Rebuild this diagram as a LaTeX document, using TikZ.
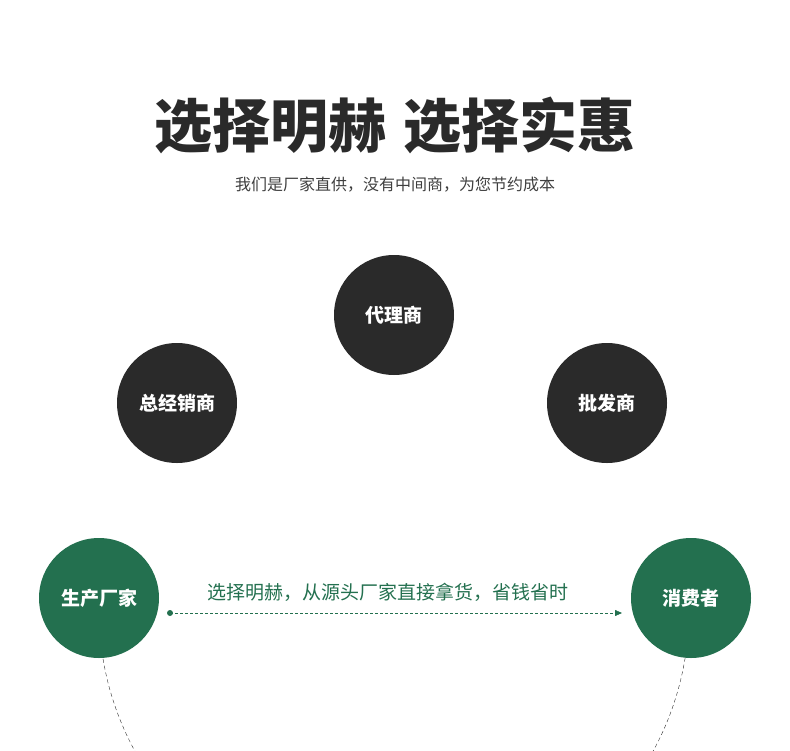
\documentclass[tikz,border=0pt]{standalone}
\usepackage{fontspec}
\setmainfont{Noto Sans CJK SC}
\usetikzlibrary{arrows.meta}
\definecolor{dk}{HTML}{2A2A2A}
\definecolor{gr}{HTML}{23704F}
\tikzset{
 darkc/.style={circle,fill=dk,minimum size=120pt,inner sep=0,text=white,font=\fontsize{19}{19}\selectfont\bfseries},
 greenc/.style={circle,fill=gr,minimum size=120pt,inner sep=0,text=white,font=\fontsize{19}{19}\selectfont\bfseries}
}
\begin{document}
\begin{tikzpicture}[x=1pt,y=-1pt]
\useasboundingbox (0,0) rectangle (790,750);
\draw[dk,dashed,dash pattern=on 4pt off 3pt] (99,610) arc[start angle=180,end angle=0,radius=295];
\node[darkc] (dl) at (394,315) {代理商};
\node[darkc] (zj) at (177,403) {总经销商};
\node[darkc] (pf) at (607,403) {批发商};
\node[greenc] (sc) at (99,598) {生产厂家};
\node[greenc] (xf) at (691,598) {消费者};
\node[text=dk,font=\fontsize{58}{58}\selectfont\bfseries] (title) at (395,125) {选择明赫\hspace{0.3em}选择实惠};
\node[text=dk!90,font=\fontsize{16}{16}\selectfont] (sub) at (395,185) {我们是厂家直供，没有中间商，为您节约成本};
\coordinate (a0) at (170,613);
\coordinate (a1) at (622,613);
\fill[gr] (a0) circle (3pt);
\draw[gr,dashed,dash pattern=on 3pt off 2pt,-{Triangle[length=7pt,width=6pt]}] (a0) -- (a1);
\node[text=gr,font=\fontsize{19}{19}\selectfont] (lbl) at (388,592) {选择明赫，从源头厂家直接拿货，省钱省时};
\end{tikzpicture}
\end{document}
